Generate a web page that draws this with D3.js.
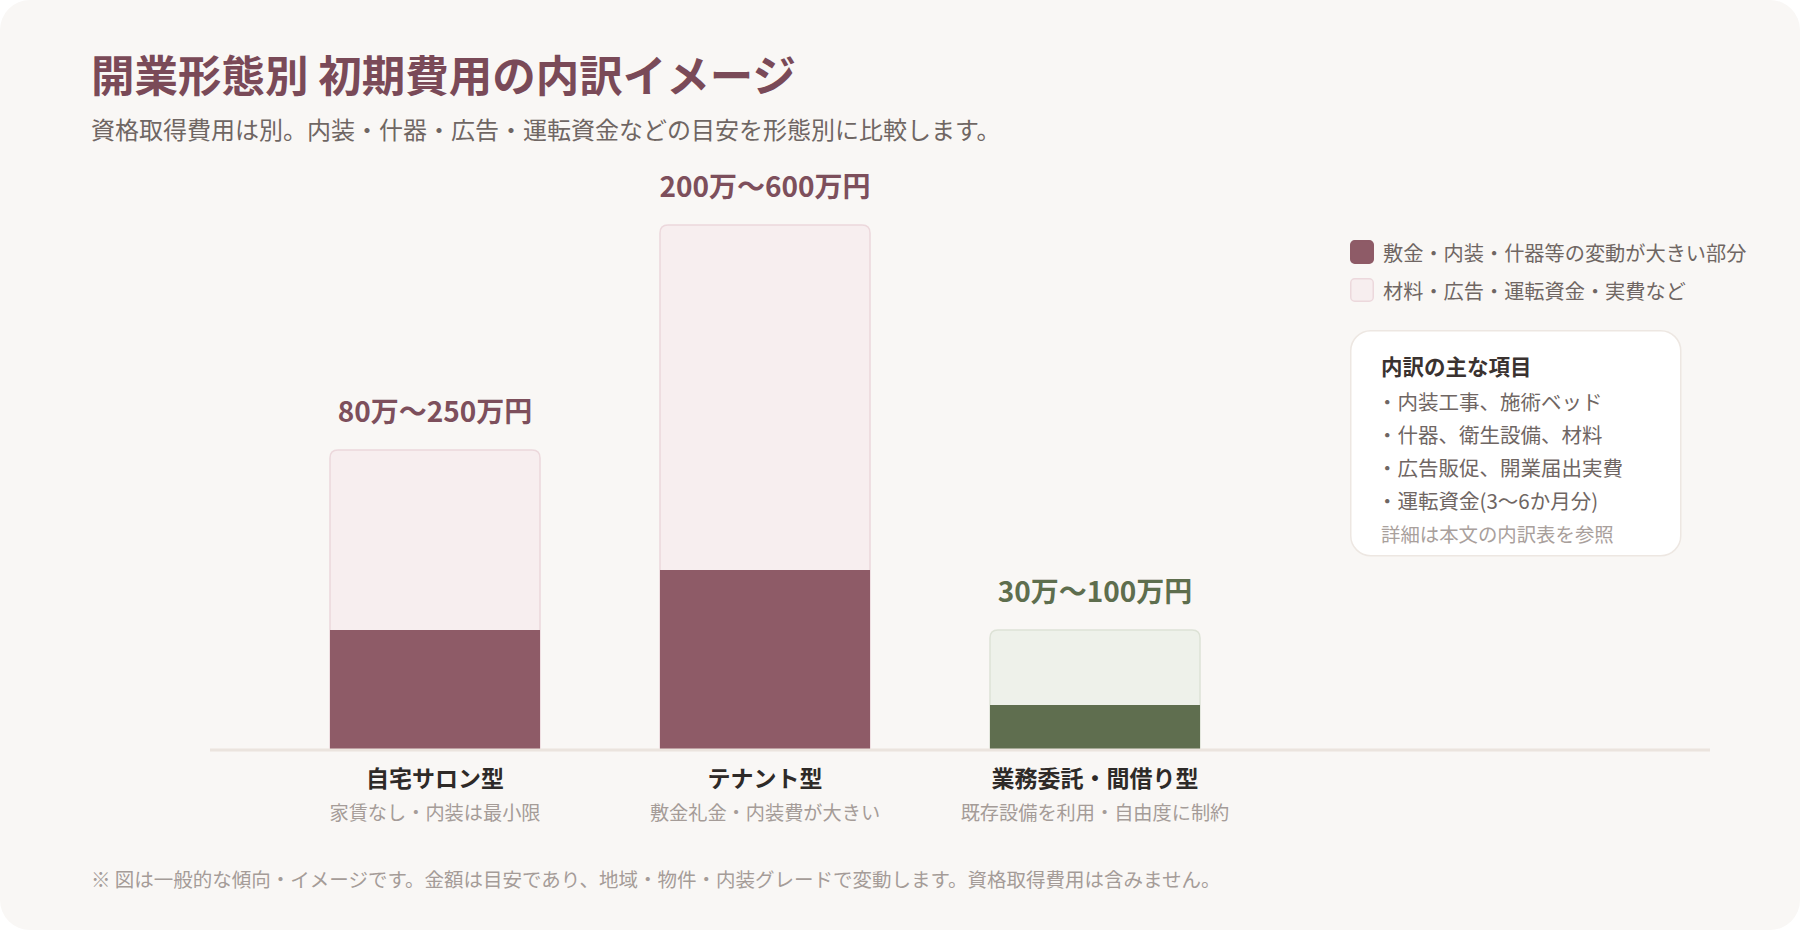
<!DOCTYPE html>
<html>
<head>
<meta charset="utf-8">
<script src="https://cdn.jsdelivr.net/npm/d3@7"></script>
<style>
    html, body { margin: 0; padding: 0; background: #ffffff; }
    svg text { font-family: "Noto Sans CJK JP", "Noto Sans", sans-serif; }
</style>
</head>
<body>
<div id="chart-area"></div>
<script>

// categories and notes
var categories = ["自宅サロン型", "テナント型", "業務委託・間借り型"];
var categoryNotes = ["家賃なし・内装は最小限", "敷金礼金・内装費が大きい", "既存設備を利用・自由度に制約"];
var rangeLabels = ["80万〜250万円", "200万〜600万円", "30万〜100万円"];

// image index (bar heights are an image, not an exact amount)
var totalIndex = [100, 175, 40];
var variableIndex = [40, 60, 15];

var legendLabels = ["敷金・内装・什器等の変動が大きい部分", "材料・広告・運転資金・実費など"];
var boxTitle = "内訳の主な項目";
var boxItems = ["・内装工事、施術ベッド", "・什器、衛生設備、材料", "・広告販促、開業届出実費", "・運転資金(3〜6か月分)"];
var boxFoot = "詳細は本文の内訳表を参照";

var titleText = "開業形態別 初期費用の内訳イメージ";
var subtitleText = "資格取得費用は別。内装・什器・広告・運転資金などの目安を形態別に比較します。";
var noteText = "※ 図は一般的な傾向・イメージです。金額は目安であり、地域・物件・内装グレードで変動します。資格取得費用は含みません。";


CostChart = function(_parentElement){
    this.parentElement = _parentElement;
    this.data = categories.map(function(c, i) {
        return {name: c, note: categoryNotes[i], label: rangeLabels[i], total: totalIndex[i], variable: variableIndex[i]};
    });
    this.initVis();
}

CostChart.prototype.initVis = function(){
    var vis = this;

    vis.width = 1800;
    vis.height = 930;

    vis.svg = d3.select("#" + vis.parentElement).append("svg")
        .attr("width", vis.width)
        .attr("height", vis.height);

    // card
    vis.svg.append("rect")
        .attr("width", vis.width)
        .attr("height", vis.height)
        .attr("rx", 30)
        .attr("fill", "#f9f7f5");

    vis.svg.append("text")
        .attr("x", 91).attr("y", 73)
        .attr("dominant-baseline", "central")
        .attr("font-size", 43.5).attr("font-weight", 700)
        .attr("fill", "#7a4a58")
        .text(titleText);

    vis.svg.append("text")
        .attr("x", 91).attr("y", 128)
        .attr("dominant-baseline", "central")
        .attr("font-size", 24)
        .attr("fill", "#6f6663")
        .text(subtitleText);

    // scales
    vis.x = d3.scaleBand()
        .domain(categories)
        .range([270, 1260])
        .paddingInner(120 / 330)
        .paddingOuter(60 / 330);

    vis.y = d3.scaleLinear()
        .domain([0, 175])
        .range([750, 225]);

    vis.theme = d3.scaleOrdinal()
        .domain(categories)
        .range([
            {dark: "#8e5b67", light: "#f7eeef", edge: "#ecd8dc", text: "#7d4f5c"},
            {dark: "#8e5b67", light: "#f7eeef", edge: "#ecd8dc", text: "#7d4f5c"},
            {dark: "#5f6e4f", light: "#eef1ea", edge: "#dde2d6", text: "#5e6e4e"}
        ]);

    vis.wrangleData();
}

CostChart.prototype.wrangleData = function(){
    var vis = this;

    vis.updateVis();
}

// rect with rounded top corners only
function topRounded(x, y, w, h, r) {
    return "M" + x + "," + (y + h) +
        "V" + (y + r) +
        "Q" + x + "," + y + " " + (x + r) + "," + y +
        "H" + (x + w - r) +
        "Q" + (x + w) + "," + y + " " + (x + w) + "," + (y + r) +
        "V" + (y + h) + "Z";
}

CostChart.prototype.updateVis = function(){
    var vis = this;
    var bw = vis.x.bandwidth();

    var bars = vis.svg.selectAll("g.bar")
        .data(vis.data)
        .enter().append("g")
        .attr("class", "bar");

    bars.append("path")
        .attr("d", function(d) {
            return topRounded(vis.x(d.name), vis.y(d.total), bw, vis.y(0) - vis.y(d.total), 8);
        })
        .attr("fill", function(d) { return vis.theme(d.name).light; })
        .attr("stroke", function(d) { return vis.theme(d.name).edge; })
        .attr("stroke-width", 1.5);

    bars.append("rect")
        .attr("x", function(d) { return vis.x(d.name); })
        .attr("y", function(d) { return vis.y(d.variable); })
        .attr("width", bw)
        .attr("height", function(d) { return vis.y(0) - vis.y(d.variable); })
        .attr("fill", function(d) { return vis.theme(d.name).dark; });

    bars.append("text")
        .attr("x", function(d) { return vis.x(d.name) + bw / 2; })
        .attr("y", function(d) { return vis.y(d.total) - 40; })
        .attr("text-anchor", "middle")
        .attr("dominant-baseline", "central")
        .attr("font-size", 28).attr("font-weight", 700)
        .attr("fill", function(d) { return vis.theme(d.name).text; })
        .text(function(d) { return d.label; });

    // baseline
    vis.svg.append("line")
        .attr("x1", 210).attr("x2", 1710)
        .attr("y1", vis.y(0)).attr("y2", vis.y(0))
        .attr("stroke", "#ebe4de")
        .attr("stroke-width", 3);

    bars.append("text")
        .attr("x", function(d) { return vis.x(d.name) + bw / 2; })
        .attr("y", 777)
        .attr("text-anchor", "middle")
        .attr("dominant-baseline", "central")
        .attr("font-size", 23).attr("font-weight", 700)
        .attr("fill", "#2e2a28")
        .text(function(d) { return d.name; });

    bars.append("text")
        .attr("x", function(d) { return vis.x(d.name) + bw / 2; })
        .attr("y", 812)
        .attr("text-anchor", "middle")
        .attr("dominant-baseline", "central")
        .attr("font-size", 19.2)
        .attr("fill", "#a59c98")
        .text(function(d) { return d.note; });

    // legend
    var legend = vis.svg.append("g")
        .attr("class", "legend")
        .attr("transform", "translate(1350,240)");

    var items = legend.selectAll("g")
        .data(legendLabels)
        .enter().append("g")
        .attr("transform", function(d, i) { return "translate(0," + (i * 38) + ")"; });

    items.append("rect")
        .attr("x", 0.75).attr("y", 0.75)
        .attr("width", 22.5).attr("height", 22.5)
        .attr("rx", 4)
        .attr("fill", function(d, i) { return i === 0 ? "#8e5b67" : "#f7eeef"; })
        .attr("stroke", function(d, i) { return i === 0 ? "#8e5b67" : "#ecd8dc"; })
        .attr("stroke-width", 1.5);

    items.append("text")
        .attr("x", 33).attr("y", 12)
        .attr("dominant-baseline", "central")
        .attr("font-size", 20.2)
        .attr("fill", "#6f6663")
        .text(function(d) { return d; });

    // breakdown box
    var box = vis.svg.append("g")
        .attr("transform", "translate(1350,330)");

    box.append("rect")
        .attr("x", 0.75).attr("y", 0.75)
        .attr("width", 330).attr("height", 225)
        .attr("rx", 20)
        .attr("fill", "#ffffff")
        .attr("stroke", "#ede7e2")
        .attr("stroke-width", 1.5);

    box.append("text")
        .attr("x", 31).attr("y", 35)
        .attr("dominant-baseline", "central")
        .attr("font-size", 21.5).attr("font-weight", 700)
        .attr("fill", "#3a3230")
        .text(boxTitle);

    box.selectAll("text.item")
        .data(boxItems)
        .enter().append("text")
        .attr("class", "item")
        .attr("x", 27)
        .attr("y", function(d, i) { return 71 + i * 33; })
        .attr("dominant-baseline", "central")
        .attr("font-size", 20.5)
        .attr("fill", "#6f6663")
        .text(function(d) { return d; });

    box.append("text")
        .attr("x", 31).attr("y", 203)
        .attr("dominant-baseline", "central")
        .attr("font-size", 19.4)
        .attr("fill", "#a9a09c")
        .text(boxFoot);

    vis.svg.append("text")
        .attr("x", 91).attr("y", 878)
        .attr("dominant-baseline", "central")
        .attr("font-size", 19.5)
        .attr("fill", "#a59c98")
        .text(noteText);
}

new CostChart("chart-area");

</script>
</body>
</html>
